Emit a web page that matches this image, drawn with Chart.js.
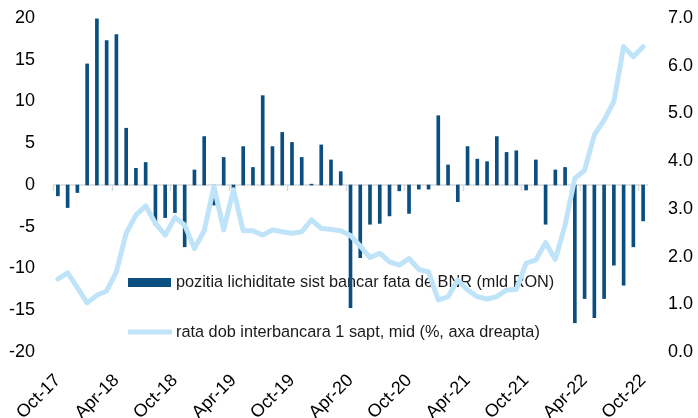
<!DOCTYPE html>
<html><head><meta charset="utf-8">
<script src="https://cdn.jsdelivr.net/npm/chart.js@4/dist/chart.umd.min.js"></script>
<style>html,body{margin:0;padding:0;background:#fff}</style>
</head><body>
<canvas id="c" width="698" height="418"></canvas>
<script>
const categories = [
 "Oct-17","Nov-17","Dec-17","Jan-18","Feb-18","Mar-18","Apr-18","May-18","Jun-18","Jul-18","Aug-18","Sep-18",
 "Oct-18","Nov-18","Dec-18","Jan-19","Feb-19","Mar-19","Apr-19","May-19","Jun-19","Jul-19","Aug-19","Sep-19",
 "Oct-19","Nov-19","Dec-19","Jan-20","Feb-20","Mar-20","Apr-20","May-20","Jun-20","Jul-20","Aug-20","Sep-20",
 "Oct-20","Nov-20","Dec-20","Jan-21","Feb-21","Mar-21","Apr-21","May-21","Jun-21","Jul-21","Aug-21","Sep-21",
 "Oct-21","Nov-21","Dec-21","Jan-22","Feb-22","Mar-22","Apr-22","May-22","Jun-22","Jul-22","Aug-22","Sep-22",
 "Oct-22"];
const liquidity = [
 -1.3,-2.7,-0.9,14.5,19.9,17.3,18.0,6.8,2.0,2.7,-4.8,-3.9,
 -3.3,-7.4,1.8,5.8,-2.4,3.3,-0.4,4.6,2.1,10.7,4.6,6.3,
 5.1,3.3,0.1,4.8,3.0,1.6,-14.7,-8.7,-4.7,-4.6,-3.7,-0.7,
 -3.4,-0.5,-0.5,8.3,2.4,-2.0,4.6,3.1,2.8,5.8,3.9,4.1,
 -0.6,3.0,-4.7,1.8,2.1,-16.5,-13.6,-15.9,-13.6,-9.6,-12.0,-7.4,
 -4.3];
const rate = [
 1.53,1.66,1.35,1.03,1.19,1.28,1.68,2.49,2.87,3.06,2.70,2.45,
 2.82,2.66,2.17,2.54,3.47,2.56,3.40,2.54,2.54,2.45,2.56,2.52,
 2.49,2.52,2.77,2.59,2.57,2.54,2.44,2.22,1.98,2.07,1.89,1.82,
 1.96,1.73,1.68,1.09,1.16,1.51,1.30,1.16,1.11,1.16,1.30,1.31,
 1.86,1.93,2.29,1.94,2.66,3.64,3.81,4.55,4.86,5.25,6.40,6.19,
 6.40];
const labelBars = "pozitia lichiditate sist bancar fata de BNR (mld RON)";
const labelLine = "rata dob interbancara 1 sapt, mid (%, axa dreapta)";
const tickEvery = 6;

const BAR = '#0b4f80';
const LINE = '#bfe4f9';
const FONT = "'Liberation Sans', Arial, sans-serif";

const decor = {
  id: 'decor',
  beforeDatasetsDraw(chart) {
    const {ctx, chartArea: a, scales: {x, y}} = chart;
    const y0 = y.getPixelForValue(0);
    const w = x.getPixelForValue(1) - x.getPixelForValue(0);
    ctx.save();
    ctx.strokeStyle = '#d9d9d9';
    ctx.lineWidth = 1.5;
    ctx.beginPath();
    ctx.moveTo(a.left, y0); ctx.lineTo(a.right, y0);
    for (let i = 0; i < categories.length; i += tickEvery) {
      const px = Math.round(x.getPixelForValue(i) - w / 2) + 0.5;
      ctx.moveTo(px, y0); ctx.lineTo(px, y0 + 6);
    }
    ctx.stroke();
    // legend
    ctx.fillStyle = BAR;
    ctx.fillRect(a.left + 75, 278, 43, 9);
    ctx.strokeStyle = LINE;
    ctx.lineWidth = 5;
    ctx.beginPath();
    ctx.moveTo(a.left + 75, 332); ctx.lineTo(a.left + 119, 332);
    ctx.stroke();
    ctx.fillStyle = '#1a1a1a';
    ctx.font = "16.3px " + FONT;
    ctx.textBaseline = 'middle';
    ctx.fillText(labelBars, a.left + 123, 283);
    ctx.fillText(labelLine, a.left + 123, 333);
    ctx.restore();
  }
};

function noPad(s) { s.paddingTop = 0; s.paddingBottom = 0; }

new Chart(document.getElementById('c'), {
  data: {
    labels: categories,
    datasets: [
      { type: 'line', label: labelLine, data: rate, yAxisID: 'y1', borderColor: LINE,
        borderWidth: 5, pointRadius: 0, tension: 0, order: 0, borderJoinStyle: 'round', borderCapStyle: 'round' },
      { type: 'bar', label: labelBars, data: liquidity, yAxisID: 'y', backgroundColor: BAR,
        barThickness: 3, order: 1 }
    ]
  },
  options: {
    responsive: false,
    animation: false,
    layout: { padding: { top: 18, left: 0, right: 0, bottom: 0 } },
    plugins: { legend: { display: false }, tooltip: { enabled: false } },
    scales: {
      x: {
        grid: { display: false, drawTicks: false }, border: { display: false },
        ticks: { autoSkip: false, maxRotation: 45, minRotation: 45, color: '#000',
          font: { size: 18, family: FONT }, padding: 18,
          callback: (v, i) => (i % tickEvery === 0 ? categories[i] : '') },
        afterFit(s) { s.height = 66; s.paddingLeft = 0; s.paddingRight = 0; }
      },
      y: {
        position: 'left', min: -20, max: 20,
        grid: { display: false, drawTicks: false }, border: { display: false },
        ticks: { stepSize: 5, color: '#000', font: { size: 18, family: FONT }, padding: 18 },
        afterFit(s) { s.width = 53; noPad(s); }
      },
      y1: {
        position: 'right', min: 0, max: 7,
        grid: { display: false, drawTicks: false }, border: { display: false },
        ticks: { stepSize: 1, color: '#000', font: { size: 18, family: FONT }, padding: 20,
          callback: v => Number(v).toFixed(1) },
        afterFit(s) { s.width = 50; noPad(s); }
      }
    }
  },
  plugins: [decor]
});
</script>
</body></html>
